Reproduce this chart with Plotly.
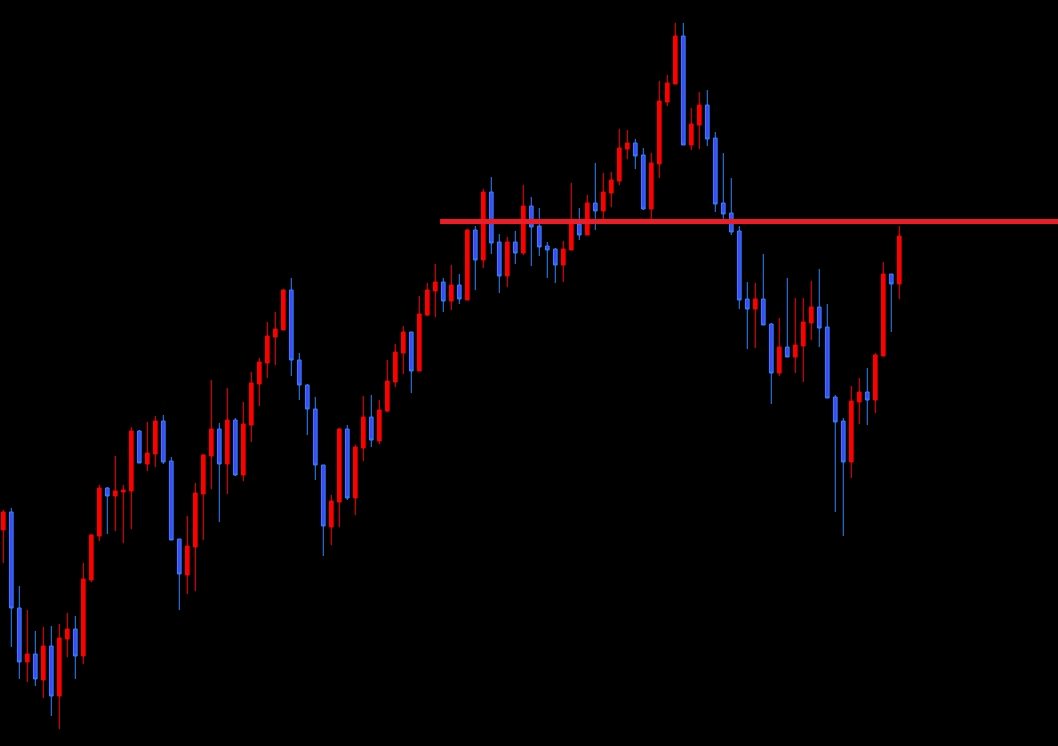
import plotly.graph_objects as go

# Candle OHLC values (price points)
opens = [216, 234, 138, 84, 92, 66, 100, 50, 107, 117, 90, 166, 210, 258, 250, 254, 255, 315, 282, 292,
         325, 285, 207, 171, 199, 252, 290, 317, 282, 326, 271, 321, 362, 383, 409, 416, 456, 386, 361, 337,
         281, 219, 244, 317, 248, 298, 329, 305, 335, 364, 393, 414, 375, 431, 455, 464, 445, 461, 446, 516,
         486, 554, 504, 470, 504, 493, 540, 520, 500, 497, 481, 496, 522, 511, 543, 535, 553, 565, 597, 603,
         591, 537, 582, 644, 662, 710, 601, 621, 641, 608, 543, 533, 515, 447, 437, 447, 422, 373, 399, 389,
         400, 423, 439, 419, 349, 325, 284, 344, 354, 346, 390, 472, 462]
highs = [236, 238, 160, 136, 115, 119, 120, 122, 133, 130, 183, 212, 261, 259, 290, 261, 319, 316, 324, 330,
         331, 289, 207, 230, 263, 292, 366, 323, 358, 328, 344, 374, 388, 424, 434, 457, 468, 393, 362, 349,
         281, 251, 318, 321, 301, 350, 351, 346, 386, 402, 420, 414, 450, 463, 482, 468, 481, 472, 517, 520,
         557, 569, 512, 509, 515, 561, 549, 538, 504, 498, 505, 563, 538, 551, 583, 573, 574, 617, 616, 607,
         598, 593, 665, 671, 723, 723, 638, 654, 656, 614, 593, 568, 520, 464, 463, 492, 423, 428, 468, 448,
         448, 465, 477, 442, 351, 328, 360, 368, 378, 393, 484, 472, 520]
lows = [183, 99, 67, 64, 60, 48, 30, 17, 89, 67, 82, 164, 205, 212, 215, 203, 217, 283, 275, 279,
        282, 206, 136, 152, 155, 206, 257, 224, 252, 270, 265, 304, 340, 368, 381, 416, 370, 346, 311, 266,
        190, 201, 219, 246, 231, 285, 299, 302, 334, 359, 372, 353, 375, 430, 429, 434, 436, 442, 446, 456,
        478, 492, 453, 459, 482, 491, 480, 490, 468, 463, 464, 496, 506, 511, 516, 526, 539, 561, 587, 577,
        536, 526, 568, 640, 662, 601, 596, 597, 600, 534, 526, 511, 437, 397, 398, 421, 342, 370, 389, 373,
        364, 406, 399, 348, 234, 210, 268, 322, 321, 333, 390, 414, 447]
closes = [234, 138, 84, 92, 67, 100, 50, 108, 117, 90, 167, 211, 258, 250, 255, 256, 315, 283, 293, 325,
          284, 206, 172, 200, 253, 291, 317, 282, 326, 271, 322, 363, 384, 410, 417, 456, 386, 361, 337, 281,
          220, 245, 317, 248, 299, 329, 306, 336, 365, 394, 414, 375, 432, 456, 464, 445, 461, 447, 516, 486,
          554, 503, 470, 504, 493, 540, 519, 499, 496, 481, 497, 522, 511, 543, 535, 554, 566, 598, 603, 590,
          537, 583, 645, 663, 710, 601, 622, 641, 607, 542, 532, 514, 446, 437, 447, 421, 373, 399, 389, 401,
          424, 439, 418, 348, 324, 284, 345, 354, 346, 391, 472, 462, 510]
bar_index = list(range(len(opens)))

# Horizontal resistance level
level_price = 524.5
level_start = 54.6

fig = go.Figure()
fig.add_trace(go.Candlestick(
    x=bar_index, open=opens, high=highs, low=lows, close=closes,
    increasing=dict(fillcolor="#ff0000", line=dict(color="#ff0000", width=1)),
    decreasing=dict(fillcolor="#4048ff", line=dict(color="#2a86ff", width=1)),
    whiskerwidth=0,
    showlegend=False,
    hoverinfo="skip",
))

fig.add_shape(type="line", xref="x", yref="y",
              x0=level_start, x1=200, y0=level_price, y1=level_price,
              line=dict(color="#ee1c25", width=5))

fig.update_layout(
    width=1058, height=746,
    margin=dict(l=0, r=0, t=0, b=0),
    paper_bgcolor="#000000", plot_bgcolor="#000000",
    showlegend=False,
    boxgap=0.35,
    xaxis=dict(range=[-0.4125, 131.84], visible=False, showgrid=False, zeroline=False,
               rangeslider=dict(visible=False)),
    yaxis=dict(range=[0, 746], visible=False, showgrid=False, zeroline=False),
)

fig.write_html(
    "out.html",
    config={"displayModeBar": False},
    post_script="document.body.style.margin='0';document.body.style.background='#000';"
                "document.documentElement.style.background='#000';",
)
